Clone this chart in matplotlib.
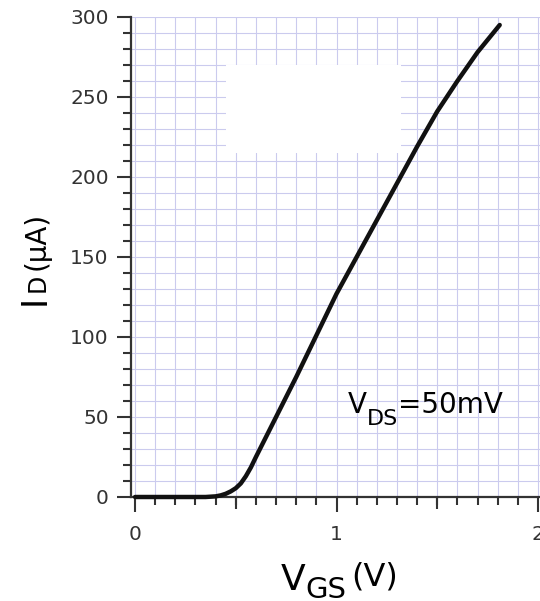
"""
I_D vs V_GS transfer curve at V_DS = 50 mV.
"""
import matplotlib
matplotlib.use('Agg')
import matplotlib.pyplot as plt
from matplotlib.patches import Rectangle
from matplotlib.ticker import MultipleLocator, FixedLocator

# gate voltage (V) and drain current (uA)
vgs = [0.0, 0.2, 0.35, 0.4, 0.425, 0.45, 0.475, 0.5, 0.525, 0.55, 0.575,
       0.6, 0.65, 0.7, 0.8, 0.9, 1.0, 1.1, 1.2, 1.3, 1.4, 1.5, 1.6, 1.7, 1.81]
id_ua = [0.0, 0.0, 0.0, 0.4, 1.0, 2.0, 3.5, 5.5, 8.5, 13, 18.5,
         25, 37.5, 50, 75, 101, 127, 150, 173, 196, 219, 241, 260, 278, 295]

x_ticks = [0, 1, 2]
y_ticks = [0, 50, 100, 150, 200, 250, 300]

plt.rcParams['font.family'] = ['DejaVu Sans']

W, H = 540, 601
fig = plt.figure(figsize=(W / 100, H / 100), dpi=100)
ax = fig.add_axes([131 / W, 1 - 497 / H, (W - 131) / W, 480 / H])

# blanked-out block in the original
ax.add_patch(Rectangle((0.45, 215), 0.87, 55, facecolor='white',
                       edgecolor='none', zorder=1))

ax.plot(vgs, id_ua, color='#111111', linewidth=3.2, zorder=3,
        solid_capstyle='round', solid_joinstyle='round', clip_on=False)

ax.set_xlim(-0.02, 2.01)
ax.set_ylim(0, 300)

ax.xaxis.set_major_locator(FixedLocator(x_ticks))
ax.xaxis.set_minor_locator(MultipleLocator(0.1))
ax.yaxis.set_major_locator(FixedLocator(y_ticks))
ax.yaxis.set_minor_locator(MultipleLocator(10))

ax.set_axisbelow(True)
ax.grid(which='both', color='#cbcbee', linewidth=0.8)

for side in ['top', 'right']:
    ax.spines[side].set_visible(False)
for side in ['left', 'bottom']:
    ax.spines[side].set_color('#333333')
    ax.spines[side].set_linewidth(1.6)

ax.tick_params(axis='both', which='both', direction='out', color='#333333',
               labelcolor='#333333', labelsize=14.5, width=1.5)
ax.tick_params(axis='x', which='major', length=11, pad=9)
ax.tick_params(axis='x', which='minor', length=5.5)
ax.tick_params(axis='y', which='major', length=10, pad=6)
ax.tick_params(axis='y', which='minor', length=6)

# half-volt ticks are a bit longer than the minor ones
sec = ax.secondary_xaxis('bottom')
sec.set_xticks([0.5, 1.5])
sec.tick_params(length=8.5, width=1.5, color='#333333', labelbottom=False)
sec.spines['bottom'].set_visible(False)

# V_DS annotation
t1 = ax.text(1.057, 52.5, 'V', fontsize=20, ha='left', va='baseline')
t2 = ax.annotate('DS', xy=(1, 52.5), xycoords=(t1, 'data'),
                 xytext=(0, -8.5), textcoords='offset points',
                 fontsize=16, ha='left', va='baseline')
ax.annotate('=50mV', xy=(1, 52.5), xycoords=(t2, 'data'),
            fontsize=20, ha='left', va='baseline')

# x label pieces
xl1 = fig.text(281 / W, 11 / H, 'V', fontsize=26, ha='left', va='baseline')
xl2 = ax.annotate('GS', xy=(1, 3 / H), xycoords=(xl1, 'figure fraction'),
                  fontsize=21, ha='left', va='baseline', annotation_clip=False)
ax.annotate('(V)', xy=(1, 16 / H), xycoords=(xl2, 'figure fraction'),
            xytext=(3, 0), textcoords='offset points',
            fontsize=23, ha='left', va='baseline', annotation_clip=False)

# y label pieces, reading bottom to top
yl1 = fig.text(45 / W, 1 - 305 / H, 'I', fontsize=25, rotation=90,
               rotation_mode='anchor', ha='left', va='baseline')
yl2 = ax.annotate('D', xy=(45 / W, 1), xycoords=('figure fraction', yl1),
                  xytext=(0, 2), textcoords='offset points',
                  fontsize=17, rotation=90, rotation_mode='anchor',
                  ha='left', va='baseline', annotation_clip=False)
ax.annotate('(\u00b5A)', xy=(45 / W, 1), xycoords=('figure fraction', yl2),
            xytext=(0, 3), textcoords='offset points',
            fontsize=20, rotation=90, rotation_mode='anchor',
            ha='left', va='baseline', annotation_clip=False)

fig.savefig('out.png', dpi=100)
